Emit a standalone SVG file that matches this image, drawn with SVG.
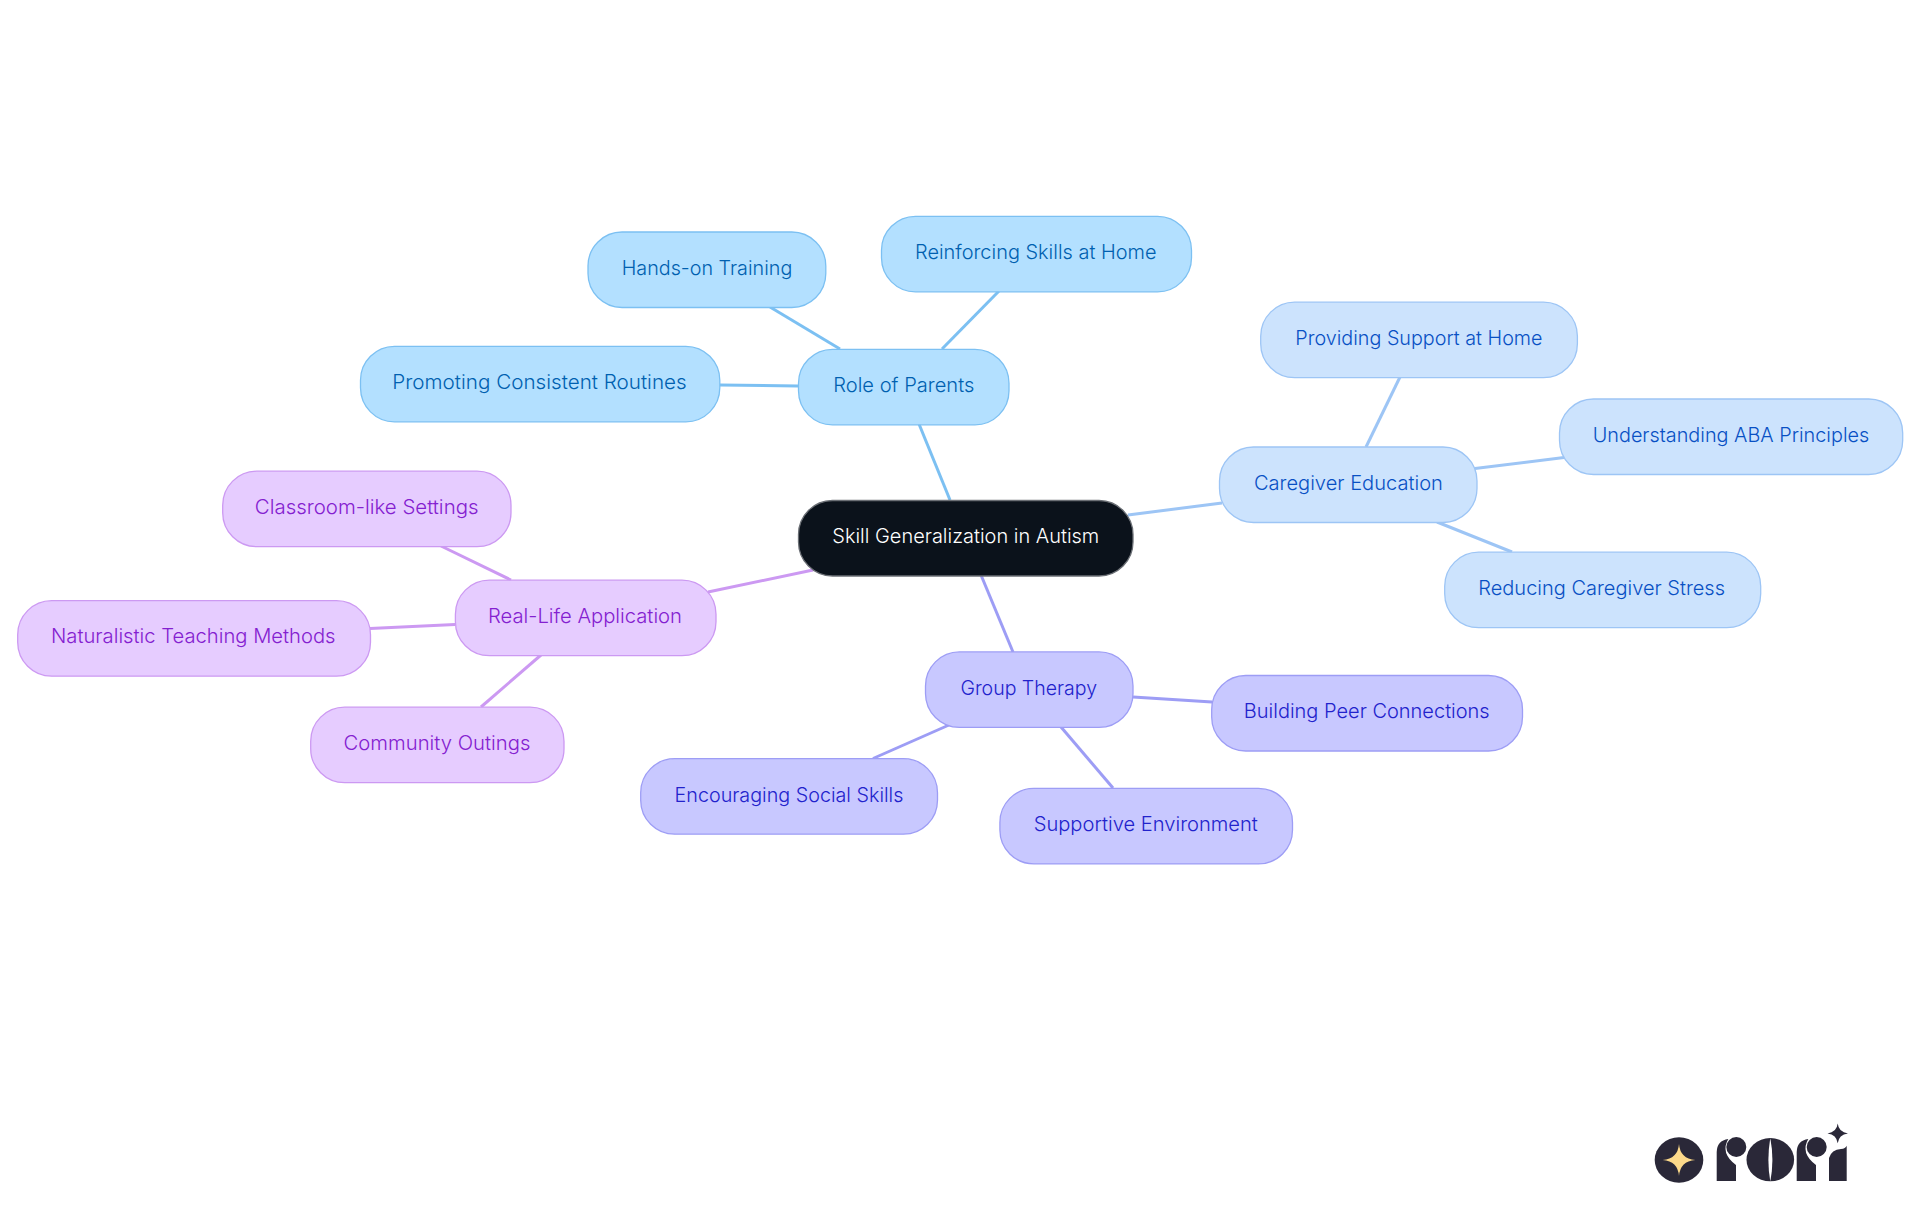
<svg xmlns="http://www.w3.org/2000/svg" width="1920" height="1215" viewBox="0 0 1920 1215">
<style>
.n{stroke-width:1.3}
text{font-family:"Inter","Liberation Sans",sans-serif;font-size:20px;font-weight:300}
#connectors line{stroke-width:3;fill:none}
.root rect{fill:#0b121b;stroke:#6b6f75}.root text{fill:#ffffff}
.sky rect{fill:#b3e0ff;stroke:#7cc0f2}.sky text{fill:#0060b0}
.blue rect{fill:#cce3fd;stroke:#9dc5f5}.blue text{fill:#0850c4}
.ind rect{fill:#c8c8ff;stroke:#9d9df5}.ind text{fill:#2222cc}
.pur rect{fill:#e6ccff;stroke:#cc99f2}.pur text{fill:#8420d0}
.lsky{stroke:#7cc0f2}.lblue{stroke:#9dc5f5}.lind{stroke:#9d9df5}.lpur{stroke:#cc99f2}
.logo{fill:#2a2838}
</style>
<rect width="1920" height="1215" fill="#ffffff"/>
<g id="connectors">
<line class="lsky" x1="950" y1="500" x2="919" y2="424"/>
<line class="lsky" x1="942" y1="349" x2="999" y2="291"/>
<line class="lsky" x1="840" y1="349" x2="770" y2="307"/>
<line class="lsky" x1="798" y1="386" x2="720" y2="385"/>
<line class="lblue" x1="1128" y1="515" x2="1222" y2="503"/>
<line class="lblue" x1="1366" y1="447" x2="1400" y2="377"/>
<line class="lblue" x1="1475" y1="468.5" x2="1564" y2="457.5"/>
<line class="lblue" x1="1437" y1="522" x2="1512" y2="552"/>
<line class="lind" x1="981" y1="575" x2="1013" y2="652"/>
<line class="lind" x1="1133" y1="697" x2="1212" y2="702"/>
<line class="lind" x1="949" y1="725" x2="873" y2="758.5"/>
<line class="lind" x1="1061" y1="727" x2="1113" y2="788"/>
<line class="lpur" x1="813" y1="570" x2="708" y2="592"/>
<line class="lpur" x1="511" y1="580" x2="441" y2="546"/>
<line class="lpur" x1="455" y1="624.5" x2="370" y2="628.5"/>
<line class="lpur" x1="541" y1="655" x2="481" y2="707"/>
</g>
<g id="root" class="root"><rect class="n" x="798.5" y="500.5" width="334.5" height="75.5" rx="34"/><text x="832.3" y="542.7" textLength="267" lengthAdjust="spacingAndGlyphs">Skill Generalization in Autism</text></g>
<g id="role-of-parents" class="sky"><rect class="n" x="798.5" y="349.3" width="210.5" height="75.5" rx="34"/><text x="833.3" y="391.5" textLength="141" lengthAdjust="spacingAndGlyphs">Role of Parents</text></g>
<g id="reinforcing-skills" class="sky"><rect class="n" x="881.5" y="216.3" width="310" height="75.5" rx="34"/><text x="915" y="258.5" textLength="241.5" lengthAdjust="spacingAndGlyphs">Reinforcing Skills at Home</text></g>
<g id="hands-on" class="sky"><rect class="n" x="588" y="232" width="237.8" height="75.5" rx="34"/><text x="621.7" y="275" textLength="170.6" lengthAdjust="spacingAndGlyphs">Hands-on Training</text></g>
<g id="promoting" class="sky"><rect class="n" x="360.5" y="346.3" width="359.3" height="75.5" rx="34"/><text x="392.3" y="388.8" textLength="294.4" lengthAdjust="spacingAndGlyphs">Promoting Consistent Routines</text></g>
<g id="caregiver-education" class="blue"><rect class="n" x="1219.5" y="447" width="257.5" height="75.5" rx="34"/><text x="1253.9" y="490" textLength="189" lengthAdjust="spacingAndGlyphs">Caregiver Education</text></g>
<g id="providing-support" class="blue"><rect class="n" x="1260.7" y="302.2" width="316.7" height="75.5" rx="34"/><text x="1295.3" y="345" textLength="247.2" lengthAdjust="spacingAndGlyphs">Providing Support at Home</text></g>
<g id="understanding-aba" class="blue"><rect class="n" x="1559.5" y="399" width="343.2" height="75.5" rx="34"/><text x="1592.7" y="442" textLength="276.6" lengthAdjust="spacingAndGlyphs">Understanding ABA Principles</text></g>
<g id="reducing-stress" class="blue"><rect class="n" x="1444.7" y="552.2" width="316" height="75.5" rx="34"/><text x="1478.3" y="595" textLength="246.7" lengthAdjust="spacingAndGlyphs">Reducing Caregiver Stress</text></g>
<g id="group-therapy" class="ind"><rect class="n" x="925.5" y="651.9" width="207.5" height="75.5" rx="34"/><text x="960.4" y="694.7" textLength="136.6" lengthAdjust="spacingAndGlyphs">Group Therapy</text></g>
<g id="building-peer" class="ind"><rect class="n" x="1211.7" y="675.5" width="310.8" height="75.5" rx="34"/><text x="1243.8" y="717.5" textLength="245.9" lengthAdjust="spacingAndGlyphs">Building Peer Connections</text></g>
<g id="encouraging-social" class="ind"><rect class="n" x="640.7" y="758.7" width="296.8" height="75.5" rx="34"/><text x="674.6" y="801.5" textLength="228.8" lengthAdjust="spacingAndGlyphs">Encouraging Social Skills</text></g>
<g id="supportive-environment" class="ind"><rect class="n" x="999.9" y="788.4" width="292.6" height="75.5" rx="34"/><text x="1033.7" y="830.7" textLength="224.2" lengthAdjust="spacingAndGlyphs">Supportive Environment</text></g>
<g id="real-life" class="pur"><rect class="n" x="455.4" y="580.2" width="260.6" height="75.5" rx="34"/><text x="488" y="623" textLength="194" lengthAdjust="spacingAndGlyphs">Real-Life Application</text></g>
<g id="classroom-like" class="pur"><rect class="n" x="222.7" y="471.2" width="288.3" height="75.5" rx="34"/><text x="254.8" y="514" textLength="223.7" lengthAdjust="spacingAndGlyphs">Classroom-like Settings</text></g>
<g id="naturalistic" class="pur"><rect class="n" x="17.7" y="600.7" width="352.8" height="75.5" rx="34"/><text x="51" y="642.8" textLength="284.5" lengthAdjust="spacingAndGlyphs">Naturalistic Teaching Methods</text></g>
<g id="community" class="pur"><rect class="n" x="310.7" y="707.2" width="253.3" height="75.5" rx="34"/><text x="343.6" y="750" textLength="186.8" lengthAdjust="spacingAndGlyphs">Community Outings</text></g>
<g id="logo">
<ellipse class="logo" cx="1679" cy="1160" rx="24.3" ry="22.7"/>
<path fill="#fcd98a" d="M1679 1144Q1680.2 1158.8 1695.3 1160Q1680.2 1161.2 1679 1176Q1677.8 1161.2 1662.7 1160Q1677.8 1158.8 1679 1144Z"/>
<path class="logo" d="M1716.7 1181V1152Q1717 1140.5 1728.3 1139Q1720 1153 1736 1165V1181Z"/>
<circle class="logo" cx="1736.3" cy="1147" r="10"/>
<ellipse class="logo" cx="1770.3" cy="1159.7" rx="23.8" ry="21.6"/>
<path fill="#fff" d="M1770.3 1138Q1766.5 1160 1770.3 1181.5Q1774.5 1160 1770.3 1138Z"/>
<path class="logo" d="M1796.7 1181V1152Q1797 1140.5 1808.3 1139Q1800 1153 1816 1165V1181Z"/>
<circle class="logo" cx="1816.7" cy="1147" r="10"/>
<path class="logo" d="M1829 1181V1158Q1831.5 1149.5 1841 1149Q1845.5 1148.5 1846.7 1145.7V1181Z"/>
<path class="logo" d="M1837.7 1123.5Q1838.7 1132.3 1848 1133.4Q1838.7 1134.5 1837.7 1143.3Q1836.7 1134.5 1827.5 1133.4Q1836.7 1132.3 1837.7 1123.5Z"/>
</g>
</svg>
